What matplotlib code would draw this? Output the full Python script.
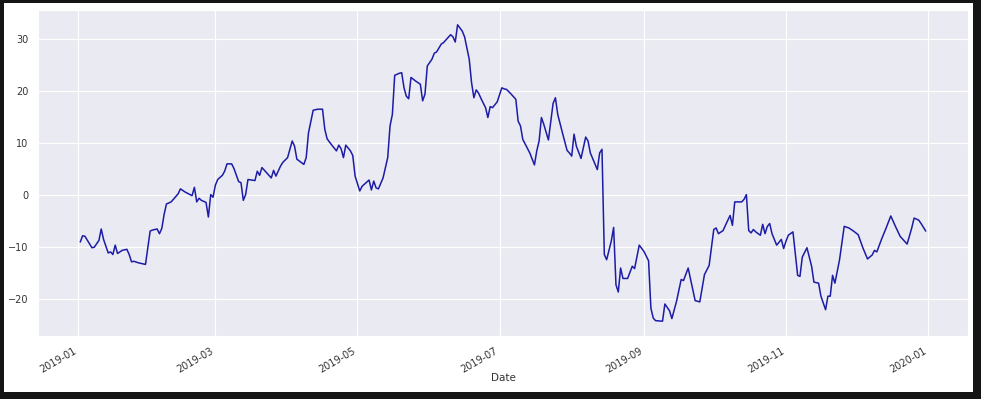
import matplotlib
matplotlib.use("Agg")
from matplotlib import pyplot as plt
from matplotlib.patches import Rectangle
import matplotlib.dates as mdates
import seaborn as sns
import pandas as pd

# day of year (0 = 2019-01-01) and value
day = [1, 2, 3, 6, 7, 9, 10, 11, 13, 14, 15, 16, 17, 19, 21, 22, 23, 24, 26, 29,
       30, 31, 32, 34, 35, 36, 37, 38, 40, 41, 43, 44, 46, 49, 50, 51, 52, 53, 55, 56,
       57, 58, 59, 60, 62, 63, 64, 66, 67, 69, 70, 71, 72, 73, 76, 77, 78, 79, 81, 83,
       84, 85, 87, 88, 90, 92, 93, 94, 97, 98, 99, 101, 103, 105, 106, 107, 109, 111, 112, 113,
       114, 115, 117, 118, 119, 121, 122, 125, 126, 127, 128, 129, 131, 133, 134, 135, 136, 138, 139, 140,
       141, 142, 143, 145, 147, 148, 149, 150, 152, 153, 154, 156, 157, 158, 160, 161, 162, 163, 165, 166,
       168, 169, 170, 171, 172, 173, 175, 176, 177, 178, 180, 182, 183, 184, 186, 188, 189, 190, 191, 194,
       196, 197, 198, 199, 200, 202, 204, 205, 206, 208, 210, 211, 212, 213, 214, 216, 218, 219, 220, 223,
       224, 225, 226, 227, 229, 230, 231, 232, 233, 234, 236, 238, 239, 241, 243, 245, 246, 247, 248, 251,
       252, 254, 255, 257, 259, 260, 262, 265, 267, 269, 271, 273, 274, 275, 277, 278, 280, 281, 282, 285,
       286, 287, 288, 289, 290, 291, 293, 294, 295, 296, 297, 298, 300, 302, 303, 304, 305, 307, 309, 310,
       311, 313, 315, 316, 318, 319, 321, 322, 323, 324, 325, 327, 329, 331, 333, 335, 337, 339, 341, 342,
       343, 345, 347, 349, 351, 353, 356, 358, 359, 361, 362, 364]
value = [-9.0, -7.8, -7.9, -10.1, -10.0, -8.7, -6.5, -8.5, -11.1, -10.9, -11.4, -9.6, -11.2, -10.6, -10.4, -11.4, -12.8, -12.7, -13.0, -13.3,
         -10.1, -6.9, -6.7, -6.5, -7.4, -6.4, -3.7, -1.7, -1.3, -0.8, 0.25, 1.2, 0.6, -0.1, 1.5, -1.3, -0.6, -1.0, -1.4, -4.2,
         0.1, -0.4, 1.9, 3.0, 3.8, 4.6, 6.0, 6.0, 5.1, 2.6, 2.4, -1.0, 0.1, 3.0, 2.8, 4.6, 3.8, 5.3, 4.3, 3.3,
         4.75, 3.65, 5.6, 6.3, 7.2, 10.4, 9.4, 6.9, 5.9, 7.2, 12.0, 16.3, 16.5, 16.5, 12.6, 10.8, 9.6, 8.5, 9.6, 8.9,
         7.2, 9.6, 8.5, 7.6, 3.65, 0.8, 1.7, 2.9, 1.0, 2.7, 1.4, 1.2, 3.3, 7.2, 13.3, 15.5, 23.0, 23.4, 23.5, 20.6,
         19.0, 18.5, 22.6, 21.9, 21.3, 18.1, 19.4, 24.8, 26.1, 27.25, 27.5, 29.0, 29.3, 29.8, 30.8, 30.4, 29.4, 32.7, 31.5, 30.4,
         26.1, 21.6, 18.7, 20.2, 19.6, 18.6, 16.8, 14.9, 17.0, 16.8, 17.9, 20.6, 20.4, 20.3, 19.4, 18.4, 14.2, 13.3, 10.7, 8.1,
         5.8, 8.5, 10.4, 14.9, 13.6, 10.6, 17.6, 18.7, 15.5, 12.0, 8.6, 8.1, 7.5, 11.7, 9.4, 7.05, 11.15, 10.4, 8.1, 4.9,
         8.1, 8.8, -11.4, -12.4, -8.8, -6.2, -17.2, -18.6, -14.0, -16.0, -16.0, -13.65, -14.1, -9.6, -10.8, -12.6, -21.7, -23.6, -24.1, -24.2,
         -20.9, -22.2, -23.7, -20.4, -16.2, -16.4, -14.0, -20.25, -20.5, -15.25, -13.5, -6.6, -6.3, -7.4, -6.8, -5.8, -3.9, -5.8, -1.3, -1.3,
         -0.8, 0.1, -6.8, -7.25, -6.6, -7.05, -7.7, -5.6, -7.4, -6.0, -5.45, -7.4, -9.6, -8.5, -10.25, -8.85, -7.7, -7.05, -15.4, -15.6,
         -11.9, -10.1, -13.65, -16.7, -16.9, -19.4, -22.0, -19.4, -19.4, -15.4, -16.9, -12.4, -6.0, -6.3, -6.9, -7.6, -10.1, -12.25, -11.5, -10.6,
         -10.9, -8.5, -6.3, -4.0, -6.0, -7.9, -9.4, -6.3, -4.4, -4.8, -5.45, -6.9]

dates = pd.Timestamp("2019-01-01") + pd.to_timedelta(day, unit="D")
series = pd.Series(value, index=pd.DatetimeIndex(dates, name="Date"))

sns.set_style("darkgrid")
plt.rcParams["font.family"] = ["DejaVu Sans"]

fig = plt.figure(figsize=(9.81, 3.99), dpi=100, facecolor="#151515")
# white page inside the dark screenshot frame
fig.add_artist(Rectangle((4 / 981, 7 / 399), 969 / 981, 389 / 399,
                         transform=fig.transFigure, facecolor="white",
                         edgecolor="none", zorder=-5))
ax = fig.add_axes([38 / 981, 63 / 399, 930 / 981, 326 / 399])

ax.plot(series.index, series.values, color="#1c1ca6", linewidth=1.1)
ax.xaxis.set_major_locator(mdates.MonthLocator(bymonth=[1, 3, 5, 7, 9, 11]))
ax.xaxis.set_major_formatter(mdates.DateFormatter("%Y-%m"))
ax.set_yticks([-20, -10, 0, 10, 20, 30])
ax.tick_params(labelsize=7, colors="#333333")
for lbl in ax.get_xticklabels():
    lbl.set_rotation(30)
    lbl.set_ha("right")
ax.set_xlabel("Date", fontsize=7.5, color="#333333", labelpad=-1)

fig.savefig("out.png", dpi=100, facecolor=fig.get_facecolor())
